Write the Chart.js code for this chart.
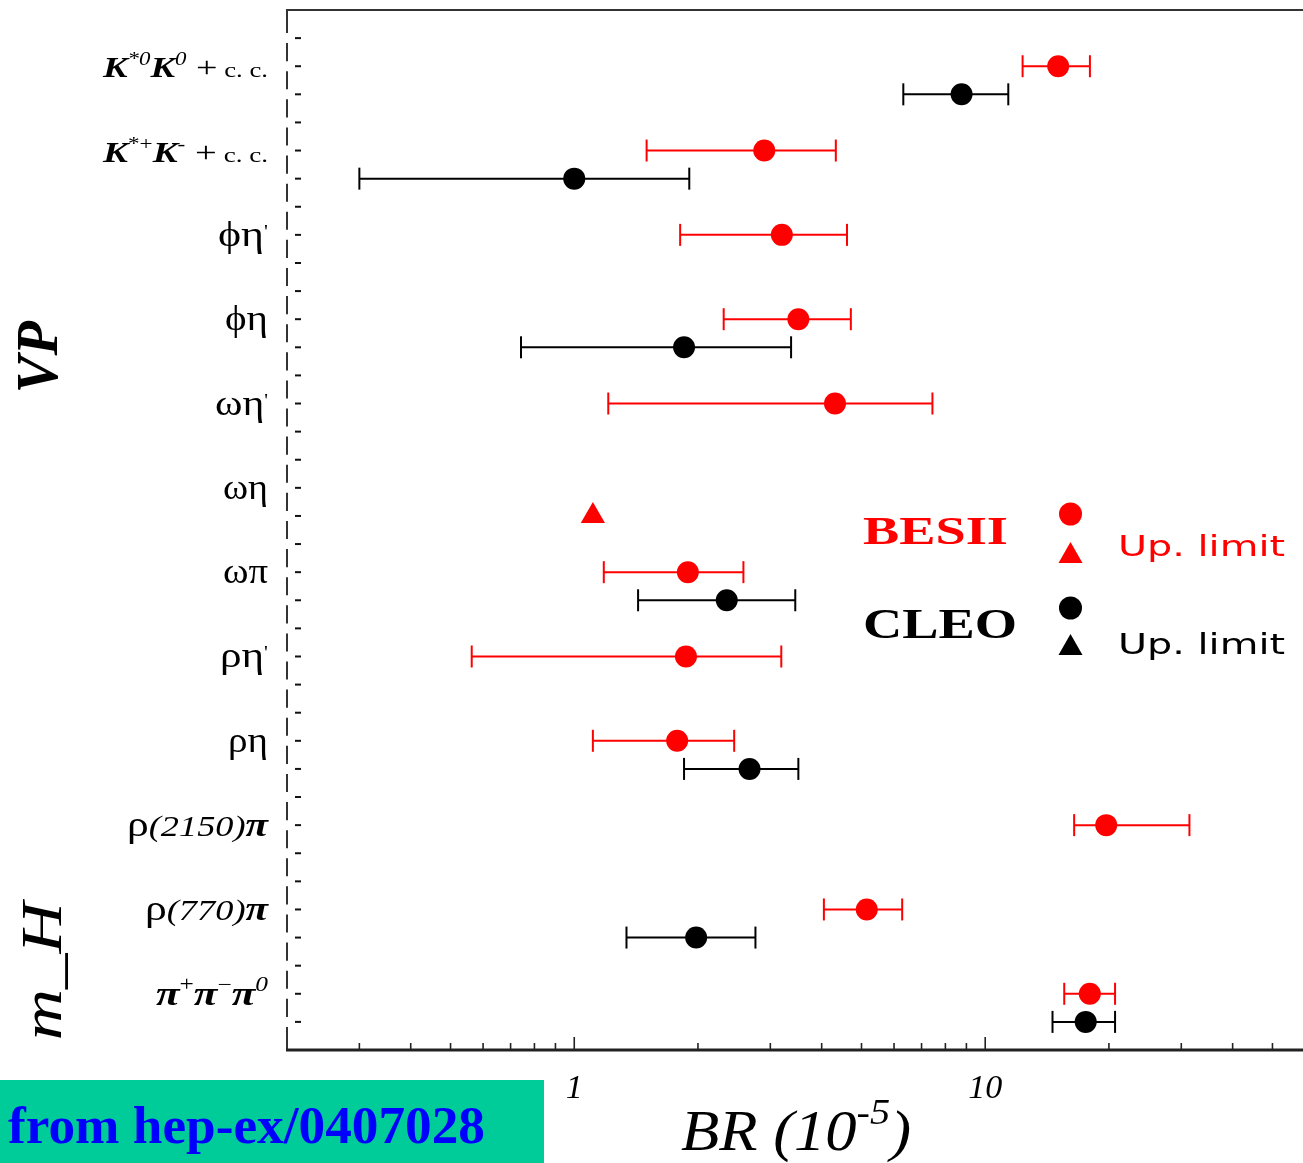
<!DOCTYPE html>
<html>
<head>
<meta charset="utf-8">
<script src="https://cdn.jsdelivr.net/npm/chart.js@4.4.1/dist/chart.umd.min.js"></script>
<style>
  html, body { margin: 0; padding: 0; background: #fff; overflow: hidden; }
  #wrap { position: relative; width: 1320px; height: 1163px; }
</style>
</head>
<body>
<div id="wrap"><canvas id="chart"></canvas></div>
<script>
// Decay channels, top to bottom
const categories = ["K*0K0+c.c.", "K*+K-+c.c.", "ϕη'", "ϕη", "ωη'", "ωη", "ωπ", "ρη'", "ρη", "ρ(2150)π", "ρ(770)π", "π+π-π0"];

// Branching ratios in units of 1e-5
const besValue = [15.05, 2.90, 3.20, 3.51, 4.31, null, 1.89, 1.87, 1.78, 19.7, 5.15, 17.97];
const besLow   = [12.33, 1.50, 1.81, 2.31, 1.21, null, 1.18, 0.563, 1.11, 16.46, 4.05, 15.57];
const besHigh  = [17.98, 4.33, 4.61, 4.71, 7.44, null, 2.58, 3.19, 2.45, 31.4, 6.28, 20.7];
const besUpperLimit = [null, null, null, null, null, 1.11, null, null, null, null, null, null];

const cleoValue = [8.76, 1.00, null, 1.85, null, null, 2.35, null, 2.67, null, 1.98, 17.56];
const cleoLow   = [6.32, 0.30, null, 0.742, null, null, 1.43, null, 1.85, null, 1.34, 14.58];
const cleoHigh  = [11.38, 1.905, null, 3.37, null, null, 3.45, null, 3.51, null, 2.76, 20.7];

// Axis ticks
const xTickLabels = [1, 10];
const xMinorTicks = [0.3, 0.4, 0.5, 0.6, 0.7, 0.8, 0.9, 2, 3, 4, 5, 6, 7, 8, 9, 20, 30, 40, 50];
const groupLabels = ["VP", "m_H"];
const axisTitle = ["BR (", "10", "-5", ")"];

const F = "'Liberation Serif','DejaVu Serif','Times New Roman',serif";
const S = "'DejaVu Sans','Liberation Sans',sans-serif";
function run(t, style, size, rise) { return { t, font: `${style} ${size}px ${F}`, rise: rise || 0 }; }

// Rich (sub/superscript) versions of the channel names
const labelRuns = [
  [run("K", "bold italic", 29), run("*0", "italic", 18, 12), run("K", "bold italic", 29), run("0", "italic", 18, 12), run(" +", "normal", 30), run(" c. c.", "normal", 21)],
  [run("K", "bold italic", 29), run("*+", "normal", 18, 12), run("K", "bold italic", 29), run("-", "normal", 18, 12), run(" +", "normal", 30), run(" c. c.", "normal", 21)],
  [run("ϕη", "normal", 36), run("'", "normal", 18, 8)],
  [run("ϕη", "normal", 36)],
  [run("ωη", "normal", 36), run("'", "normal", 18, 8)],
  [run("ωη", "normal", 36)],
  [run("ωπ", "normal", 36)],
  [run("ρη", "normal", 36), run("'", "normal", 18, 8)],
  [run("ρη", "normal", 36)],
  [run("ρ", "normal", 36), run("(2150)", "italic", 30), run("π", "bold italic", 34)],
  [run("ρ", "normal", 36), run("(770)", "italic", 30), run("π", "bold italic", 34)],
  [run("π", "bold italic", 34), run("+", "normal", 20, 14), run("π", "bold italic", 34), run("−", "normal", 20, 14), run("π", "bold italic", 34), run("0", "italic", 20, 14)]
];
const labelWidths = [165, 165, 50, 43, 53, 45, 45, 48, 40, 141, 123, 112];

// Each channel takes three rows: spacer, BESII, CLEO
const besRow = i => 3 * i + 2;
const cleoRow = i => 3 * i + 3;

function toPoints(values, lows, highs, row) {
  const pts = [];
  values.forEach((v, i) => {
    if (v !== null) pts.push({ x: v, y: row(i), lo: lows ? lows[i] : null, hi: highs ? highs[i] : null });
  });
  return pts;
}

function drawRich(ctx, runs, x, baseline, align, width, color) {
  let total = 0;
  runs.forEach(r => { ctx.font = r.font; r.w = ctx.measureText(r.t).width; total += r.w; });
  const sx = width ? width / total : 1;
  const w = total * sx;
  const left = align === 'right' ? x - w : align === 'center' ? x - w / 2 : x;
  ctx.save();
  ctx.fillStyle = color;
  ctx.textBaseline = 'alphabetic';
  ctx.textAlign = 'left';
  ctx.translate(left, baseline);
  ctx.scale(sx, 1);
  let cx = 0;
  runs.forEach(r => { ctx.font = r.font; ctx.fillText(r.t, cx, -r.rise); cx += r.w; });
  ctx.restore();
}

function seg(ctx, x0, y0, x1, y1) { ctx.beginPath(); ctx.moveTo(x0, y0); ctx.lineTo(x1, y1); ctx.stroke(); }

const decor = {
  id: 'decor',
  beforeDatasetsDraw(chart) {
    const { ctx, scales: { x, y } } = chart;
    chart.data.datasets.forEach(ds => {
      if (!ds.errorBars) return;
      ctx.save();
      ctx.strokeStyle = ds.borderColor;
      ctx.lineWidth = 2;
      ds.data.forEach(p => {
        const yp = y.getPixelForValue(p.y);
        const x0 = x.getPixelForValue(p.lo), x1 = x.getPixelForValue(p.hi);
        seg(ctx, x0, yp, x1, yp);
        seg(ctx, x0, yp - 11, x0, yp + 11);
        seg(ctx, x1, yp - 11, x1, yp + 11);
      });
      ctx.restore();
    });
  },
  afterDraw(chart) {
    const { ctx, chartArea: a, scales: { x, y } } = chart;
    ctx.save();
    ctx.lineCap = 'butt';

    // frame: top line and dashed left axis
    ctx.strokeStyle = '#333';
    ctx.lineWidth = 2;
    seg(ctx, a.left - 1, a.top, a.right, a.top);
    for (let v = 0; v <= 36; v++) {
      const y0 = y.getPixelForValue(v) + (v === 0 ? -1 : 5);
      const y1 = y.getPixelForValue(v + 1) - (v === 36 ? 0 : 5);
      seg(ctx, a.left, y0, a.left, y1);
    }
    ctx.strokeStyle = '#111';
    for (let v = 1; v <= 36; v++) {
      const py = y.getPixelForValue(v);
      seg(ctx, a.left + 8, py, a.left + 14, py);
    }

    // bottom axis with inward ticks
    ctx.strokeStyle = '#222';
    ctx.lineWidth = 3;
    seg(ctx, a.left - 1, a.bottom, a.right, a.bottom);
    ctx.lineWidth = 1.6;
    xMinorTicks.forEach(v => { const px = x.getPixelForValue(v); seg(ctx, px, a.bottom, px, a.bottom - 7); });
    xTickLabels.forEach(v => { const px = x.getPixelForValue(v); seg(ctx, px, a.bottom, px, a.bottom - 13); });

    // channel names
    categories.forEach((c, i) => {
      drawRich(ctx, labelRuns[i], a.left - 19, y.getPixelForValue(besRow(i)) + 11, 'right', labelWidths[i], '#000');
    });

    // group labels (rotated)
    [[groupLabels[0], 'bold italic', 60, y.getPixelForValue(12.35), 57, 72],
     [groupLabels[1], 'italic', 58, y.getPixelForValue(34.2), 61, 138]].forEach(([t, st, sz, cy, bx, w]) => {
      ctx.save();
      ctx.translate(bx, cy);
      ctx.rotate(-Math.PI / 2);
      drawRich(ctx, [run(t, st, sz)], 0, 0, 'center', w, '#000');
      ctx.restore();
    });

    // axis title
    drawRich(ctx, [run(axisTitle[0], 'italic', 56), run(axisTitle[1], 'italic', 56), run(axisTitle[2], 'italic', 36, 26), run(axisTitle[3], 'italic', 56)],
      (a.left + a.right) / 2, 1150, 'center', 230, '#000');

    // legend
    const legendRows = [
      { name: 'BESII', color: '#ff0000', size: 39, nameBase: 544, nameW: 145, dot: 514, tri: 553, upBase: 556 },
      { name: 'CLEO', color: '#000000', size: 42, nameBase: 638, nameW: 154, dot: 608, tri: 645, upBase: 654 }
    ];
    legendRows.forEach(r => {
      drawRich(ctx, [run(r.name, 'bold', r.size)], 863, r.nameBase, 'left', r.nameW, r.color);
      ctx.fillStyle = r.color;
      ctx.beginPath(); ctx.arc(1070.5, r.dot, 11.5, 0, Math.PI * 2); ctx.fill();
      ctx.beginPath(); ctx.moveTo(1070.5, r.tri - 11); ctx.lineTo(1082.5, r.tri + 10); ctx.lineTo(1058.5, r.tri + 10); ctx.closePath(); ctx.fill();
      drawRich(ctx, [{ t: 'Up. limit', font: `29px ${S}`, rise: 0 }], 1118, r.upBase, 'left', 167, r.color);
    });

    // source box
    ctx.fillStyle = '#00CC99';
    ctx.fillRect(0, 1080, 544, 83);
    drawRich(ctx, [run('from hep-ex/0407028', 'bold', 52)], 8, 1143, 'left', 477, '#0000ff');

    ctx.restore();
  }
};

new Chart(document.getElementById('chart'), {
  type: 'scatter',
  data: {
    datasets: [
      { label: 'BESII', data: toPoints(besValue, besLow, besHigh, besRow), errorBars: true,
        backgroundColor: '#ff0000', borderColor: '#ff0000', borderWidth: 0, pointRadius: 11, pointStyle: 'circle' },
      { label: 'CLEO', data: toPoints(cleoValue, cleoLow, cleoHigh, cleoRow), errorBars: true,
        backgroundColor: '#000000', borderColor: '#000000', borderWidth: 0, pointRadius: 11, pointStyle: 'circle' },
      { label: 'BESII Up. limit', data: toPoints(besUpperLimit, null, null, cleoRow),
        backgroundColor: '#ff0000', borderColor: '#ff0000', borderWidth: 0, pointRadius: 14, pointStyle: 'triangle' }
    ]
  },
  options: {
    responsive: true,
    maintainAspectRatio: false,
    animation: false,
    events: [],
    layout: { padding: { left: 287, top: 10, right: 15, bottom: 0 }, autoPadding: false },
    plugins: { legend: { display: false }, tooltip: { enabled: false } },
    scales: {
      x: {
        type: 'logarithmic', position: 'bottom', min: 0.2, max: 60,
        grid: { display: false }, border: { display: false },
        afterBuildTicks: s => { s.ticks = xTickLabels.map(v => ({ value: v })); },
        ticks: { font: { family: F, size: 34, style: 'italic' }, color: '#000', padding: 11,
                 maxRotation: 0, autoSkip: false, callback: v => String(v) },
        afterFit: s => { s.height = 113; }
      },
      y: {
        type: 'linear', min: 0, max: 37, reverse: true,
        grid: { display: false }, border: { display: false },
        ticks: { display: false },
        afterFit: s => { s.width = 0; }
      }
    }
  },
  plugins: [decor]
});
</script>
</body>
</html>
